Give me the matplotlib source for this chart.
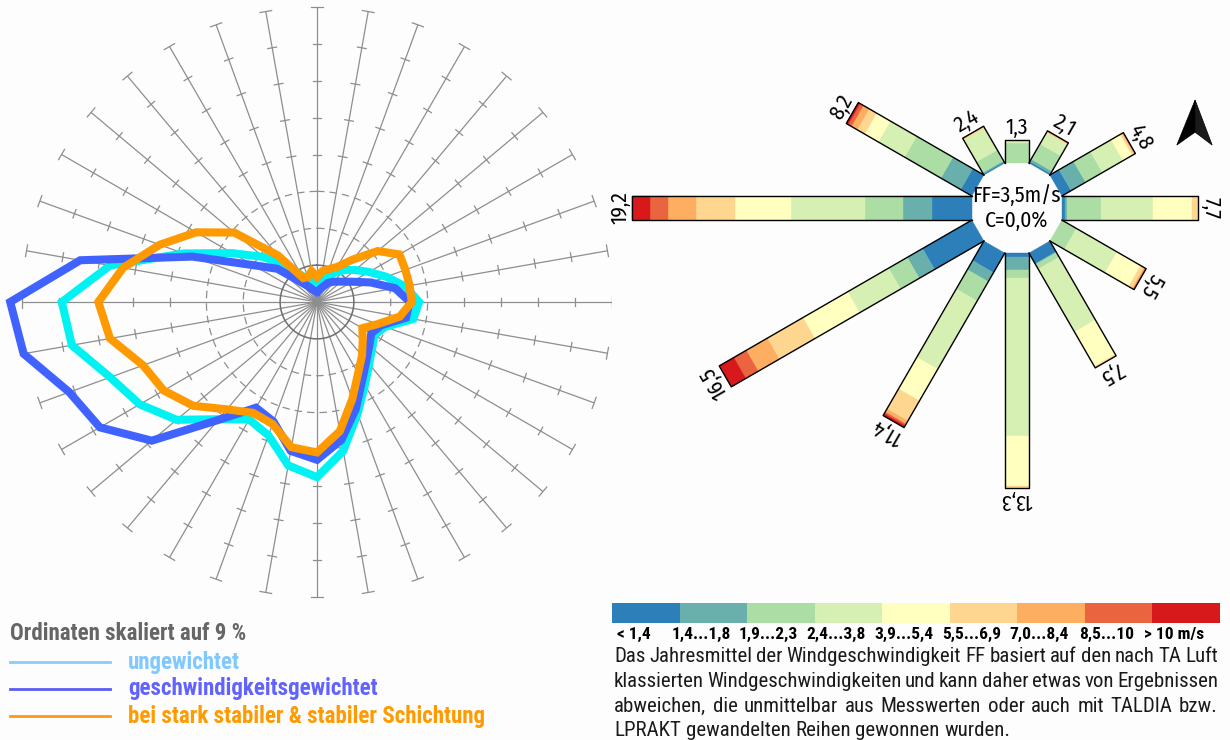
import numpy as np
import matplotlib
matplotlib.use("Agg")
import matplotlib.pyplot as plt
from matplotlib.patches import Rectangle, Polygon
from matplotlib.lines import Line2D
from matplotlib.transforms import Affine2D

W, H = 1230, 740
LEG_FONT = ["Roboto Condensed", "DejaVu Sans"]
ROSE_FONT = ["Fira Sans Condensed", "Roboto Condensed", "DejaVu Sans"]
BG = "#fcfdfc"

# --- direction distribution, 36 sectors of 10 deg (ordinate scaled to 9 %) ---
sector_deg = np.arange(0, 360, 10)
dist_unweighted = [0.46, 0.55, 0.70, 0.90, 1.13, 1.35, 1.63, 2.00, 2.43, 2.77,
                   2.65, 1.97, 1.80, 1.95, 2.20, 2.60, 3.22, 4.10, 4.75, 4.50,
                   3.85, 3.68, 4.15, 4.97, 5.55, 5.97, 6.75, 6.92, 5.70, 3.85,
                   2.65, 1.90, 1.28, 0.83, 0.65, 0.50]
dist_speed_weighted = [0.28, 0.33, 0.43, 0.60, 0.72, 0.86, 1.10, 1.55, 2.15, 2.52,
                       2.45, 1.85, 1.70, 1.85, 2.08, 2.45, 3.08, 3.80, 4.28, 4.10,
                       3.45, 3.31, 4.18, 5.85, 6.80, 7.15, 8.08, 8.32, 6.52, 3.60,
                       2.00, 1.40, 0.73, 0.50, 0.36, 0.30]
dist_stable = [0.68, 0.85, 0.95, 1.10, 1.50, 2.15, 2.58, 2.55, 2.55, 2.57,
               2.28, 1.75, 1.42, 1.62, 1.90, 2.23, 2.80, 3.56, 4.08, 4.00,
               3.52, 3.47, 3.80, 4.38, 4.80, 5.02, 5.70, 5.93, 5.34, 4.54,
               3.78, 2.93, 1.65, 0.75, 0.72, 0.85]

legend_labels = ["ungewichtet", "geschwindigkeitsgewichtet",
                 "bei stark stabiler & stabiler Schichtung"]

# --- wind rose, 12 sectors, frequency in % split by speed class ---
rose_dirs = [0, 30, 60, 90, 120, 150, 180, 210, 240, 270, 300, 330]
ff_lt_1_4 = [0.00, 0.10, 0.60, 0.15, 0.00, 0.70, 0.20, 1.28, 3.22, 2.27, 0.73, 0.08]
ff_1_4_1_8 = [0.00, 0.15, 0.95, 0.15, 0.00, 0.05, 0.75, 0.59, 1.00, 1.62, 1.29, 0.07]
ff_1_9_2_3 = [1.15, 1.00, 1.10, 1.90, 0.95, 0.30, 0.47, 1.26, 1.22, 2.16, 2.37, 0.70]
ff_2_4_3_8 = [0.15, 0.75, 1.35, 2.93, 2.65, 4.10, 8.95, 4.46, 2.68, 4.19, 1.72, 1.45]
ff_3_9_5_4 = [0.00, 0.00, 0.60, 2.20, 1.55, 2.25, 2.83, 2.07, 2.92, 3.16, 0.90, 0.00]
ff_5_5_6_9 = [0.00, 0.05, 0.12, 0.37, 0.22, 0.10, 0.10, 1.31, 2.33, 2.23, 0.49, 0.06]
ff_7_0_8_4 = [0.00, 0.03, 0.05, 0.00, 0.08, 0.00, 0.00, 0.20, 1.37, 1.56, 0.37, 0.04]
ff_8_5_10 = [0.00, 0.02, 0.03, 0.00, 0.05, 0.00, 0.00, 0.10, 0.81, 1.00, 0.21, 0.00]
ff_gt_10 = [0.00, 0.00, 0.00, 0.00, 0.00, 0.00, 0.00, 0.13, 0.95, 1.01, 0.12, 0.00]
speed_classes = [ff_lt_1_4, ff_1_4_1_8, ff_1_9_2_3, ff_2_4_3_8, ff_3_9_5_4,
                 ff_5_5_6_9, ff_7_0_8_4, ff_8_5_10, ff_gt_10]
class_labels = ["< 1,4", "1,4...1,8", "1,9...2,3", "2,4...3,8", "3,9...5,4",
                "5,5...6,9", "7,0...8,4", "8,5...10", "> 10 m/s"]
class_colors = ["#2c7fb8", "#69afab", "#abdda4", "#d6efb2", "#ffffbf",
                "#fed690", "#fdae61", "#ea643f", "#d7191c"]
mean_ff = 3.5
calm = 0.0

note = ["Das Jahresmittel der Windgeschwindigkeit FF basiert auf den nach TA Luft",
        "klassierten Windgeschwindigkeiten und kann daher etwas von Ergebnissen",
        "abweichen, die unmittelbar aus Messwerten oder auch mit TALDIA bzw.",
        "LPRAKT gewandelten Reihen gewonnen wurden."]


def de(v):
    return f"{v:.1f}".replace(".", ",")


def fx(px):
    return px / W


def fy(py):
    return 1 - py / H


fig = plt.figure(figsize=(W / 100, H / 100), dpi=100)
fig.patch.set_facecolor(BG)

# ---------------- polar distribution (left) ----------------
ax = fig.add_axes([fx(22), fy(597), 590 / W, 590 / H], projection="polar")
ax.set_theta_zero_location("N")
ax.set_theta_direction(-1)
ax.set_ylim(0, 8)
ax.axis("off")

grid_c = "#8e8e8e"
th = np.deg2rad(sector_deg)
for t in th:
    ax.plot([t, t], [0, 8], color=grid_c, lw=0.9, zorder=1)
    for r in range(4, 8):
        d = 0.12 / r
        ax.plot([t - d, t + d], [r, r], color=grid_c, lw=0.9, zorder=1)
    d = 0.16 / 8
    ax.plot([t - d, t + d], [8, 8], color=grid_c, lw=0.9, zorder=1, clip_on=False)

circ = np.linspace(0, 2 * np.pi, 361)
ax.plot(circ, np.full_like(circ, 1.0), color="#6e6e6e", lw=1.1, zorder=1)
for r in (2, 3):
    ax.plot(circ, np.full_like(circ, r), color=grid_c, lw=0.9,
            ls=(0, (6, 4)), zorder=1)

th_c = np.append(th, th[0] + 2 * np.pi)
for vals, col in [(dist_unweighted, "#00f2f2"),
                  (dist_speed_weighted, "#4062ff"),
                  (dist_stable, "#ff9900")]:
    v = np.append(vals, vals[0])
    ax.plot(th_c, v, color=col, lw=5.8, solid_joinstyle="miter",
            clip_on=False, zorder=3)

# legend block
fig.text(fx(10), fy(634), "Ordinaten skaliert auf 9 %", family=LEG_FONT,
         weight="bold", fontsize=16.5, color="#666666", va="center")
leg_line_c = ["#87cdfa", "#5c5cf0", "#ff9a10"]
leg_text_c = ["#80c8ff", "#6262ff", "#ff9a00"]
for k, (lab, lc, tc) in enumerate(zip(legend_labels, leg_line_c, leg_text_c)):
    y = 662 + 27 * k
    fig.add_artist(Line2D([fx(10), fx(110)], [fy(y), fy(y)], color=lc, lw=2,
                          transform=fig.transFigure))
    fig.text(fx(128), fy(y), lab, family=LEG_FONT, weight="bold", fontsize=16.5,
             color=tc, va="center")

# ---------------- wind rose (right) ----------------
ax2 = fig.add_axes([fx(612), fy(517), 610 / W, 429 / H])
ax2.set_xticks([])
ax2.set_yticks([])
for s in ax2.spines.values():
    s.set_visible(False)
ax2.set_facecolor(BG)

r0 = 2.55
bw = 2 * r0 * np.tan(np.deg2rad(15))
for i, d in enumerate(rose_dirs):
    tr = Affine2D().rotate_deg(-d) + ax2.transData
    start = r0
    for k, cls in enumerate(speed_classes):
        v = cls[i]
        if v > 0:
            ax2.add_patch(Rectangle((-bw / 2, start), bw, v, transform=tr,
                                    facecolor=class_colors[k],
                                    edgecolor=class_colors[k], lw=0.3))
        start += v
    ax2.add_line(Line2D([-bw / 2, -bw / 2, bw / 2, bw / 2],
                        [r0, start, start, r0], color="black", lw=1.0,
                        transform=tr))
    R = start + 0.1
    a = np.deg2rad(d)
    ax2.text(R * np.sin(a), R * np.cos(a), de(start - r0), rotation=-d,
             rotation_mode="anchor", ha="center", va="bottom",
             family=ROSE_FONT, fontsize=15.5, color="black")

ax2.text(0, 0.74, f"FF={de(mean_ff)}m/s", ha="center", va="center",
         family=ROSE_FONT, fontsize=15.5)
ax2.text(0, -0.74, f"C={de(calm)}%", ha="center", va="center",
         family=ROSE_FONT, fontsize=15.5)

# north arrow
ax2.add_patch(Polygon([(0.956, 0.972), (0.926, 0.867), (0.956, 0.897)],
                      closed=True, facecolor="black", edgecolor="black",
                      lw=0.5, transform=ax2.transAxes))
ax2.add_patch(Polygon([(0.956, 0.972), (0.984, 0.867), (0.956, 0.897)],
                      closed=True, facecolor="#1a1a1a", edgecolor="black",
                      lw=0.5, transform=ax2.transAxes))

ax2.set_xlim(-22.9, 11.6)
ax2.set_ylim(-17.48, 6.79)
ax2.set_aspect("equal")

# ---------------- speed class colour bar ----------------
ax3 = fig.add_axes([fx(612), fy(623), 608 / W, 20 / H])
ax3.bar(np.arange(9), 1, width=1, align="edge", color=class_colors,
        edgecolor="none")
ax3.set_xlim(0, 9)
ax3.set_ylim(0, 1)
ax3.axis("off")
for i, lab in enumerate(class_labels):
    ax3.text(i + 0.32, -0.55, lab, ha="center", va="center", family=LEG_FONT,
             weight="bold", fontsize=12.5, color="black")

# ---------------- justified note ----------------
renderer = fig.canvas.get_renderer()
x0, x1 = 614, 1218
note_kw = dict(family=LEG_FONT, fontsize=15, color="#1a1a1a", va="center")
probe1 = fig.text(0, 0, "a a", **note_kw)
probe2 = fig.text(0, 0, "aa", **note_kw)
space_w = probe1.get_window_extent(renderer).width - probe2.get_window_extent(renderer).width
probe1.remove()
probe2.remove()
for k, line in enumerate(note):
    y = fy(657 + 24.5 * k)
    words = line.split()
    txts = [fig.text(0, y, w_, **note_kw) for w_ in words]
    widths = [t.get_window_extent(renderer).width for t in txts]
    if k < len(note) - 1:
        gap = max((x1 - x0 - sum(widths)) / (len(words) - 1), space_w * 0.6)
    else:
        gap = space_w
    x = x0
    for t, wd in zip(txts, widths):
        t.set_x(fx(x))
        x += wd + gap

fig.savefig("out.png", dpi=100, facecolor=fig.get_facecolor())
